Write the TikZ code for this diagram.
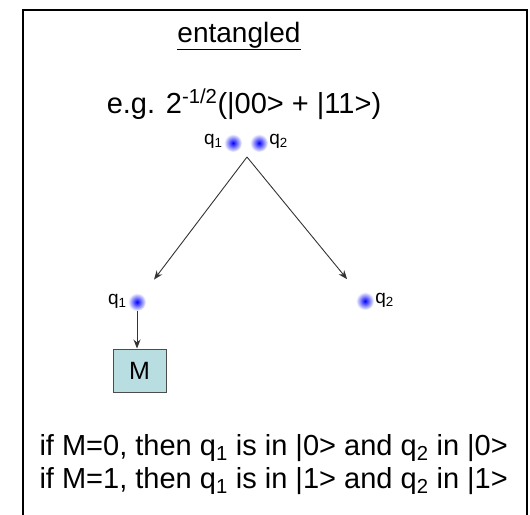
\documentclass[tikz,border=0pt]{standalone}
\usepackage{fontspec}
\setmainfont{Liberation Sans}
\usepackage{tikz}
\usetikzlibrary{arrows.meta}

\definecolor{boxcyan}{RGB}{185,222,225}

\tikzset{
  qubit/.style={circle,minimum size=18pt,inner sep=0pt,shading=radial,inner color=blue,outer color=white},
  qlabel/.style={font=\fontsize{19}{22}\selectfont,inner sep=1pt},
  flow/.style={draw=black!80,line width=0.9pt,-{Stealth[length=9pt,width=7pt]}}
}

\begin{document}
\begin{tikzpicture}[x=1pt,y=-1pt]
  \useasboundingbox (0,0) rectangle (530,514);
  \draw[line width=2.2pt] (23,530) -- (23,10) -- (527,10) -- (527,530);
  \node[anchor=base,font=\fontsize{28}{34}\selectfont] (title) at (239,42) {\underline{entangled}};
  \node[anchor=base,font=\fontsize{29}{35}\selectfont] (state) at (244,113) {e.g. 2\textsuperscript{-1/2}(|00> + |11>)};
  \node[qubit] (qa) at (233,143) {};
  \node[qubit] (qb) at (259,143) {};
  \node[qlabel,anchor=east] (la) at ([yshift=2pt]qa.west) {q\textsubscript{1}};
  \node[qlabel,anchor=west] (lb) at ([yshift=2pt]qb.east) {q\textsubscript{2}};
  \coordinate (split) at (247,157);
  \node[qubit] (qc) at (137,302) {};
  \node[qubit] (qd) at (365,301) {};
  \node[qlabel,anchor=east] (lc) at ([yshift=1pt]qc.west) {q\textsubscript{1}};
  \node[qlabel,anchor=west] (ld) at ([yshift=1pt]qd.east) {q\textsubscript{2}};
  \node[draw=black!70,line width=1pt,fill=boxcyan,minimum width=53pt,minimum height=43pt,font=\fontsize{25}{30}\selectfont] (meas) at (139.5,370.5) {M};
  \draw[flow,shorten >=19pt] (split) -- (qc);
  \draw[flow,shorten >=19pt] (split) -- (qd);
  \draw[flow] (qc) -- (qc |- meas.north);
  \node[anchor=base west,font=\fontsize{29}{35}\selectfont] (rule0) at (36,455) {if M=0, then q\textsubscript{1} is in |0> and q\textsubscript{2} in |0>};
  \node[anchor=base west,font=\fontsize{29}{35}\selectfont] (rule1) at (36,488) {if M=1, then q\textsubscript{1} is in |1> and q\textsubscript{2} in |1>};
\end{tikzpicture}
\end{document}
